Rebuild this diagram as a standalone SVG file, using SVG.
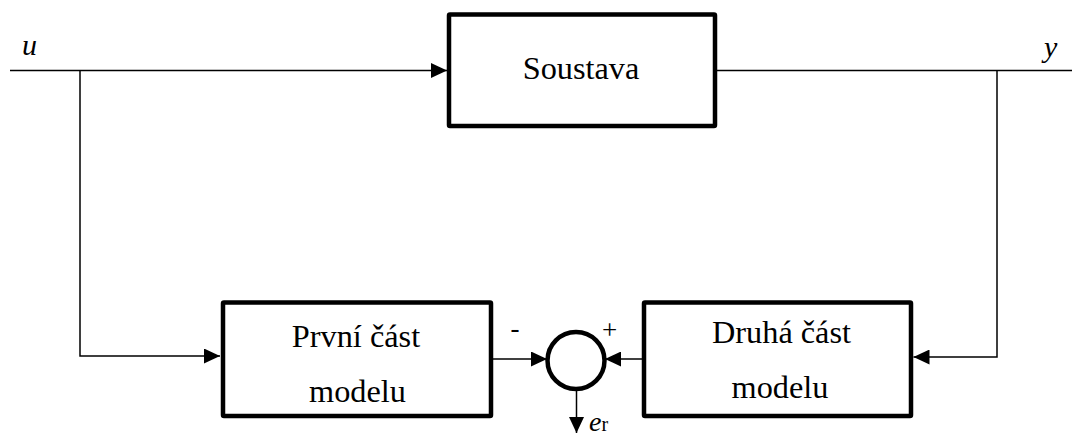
<svg xmlns="http://www.w3.org/2000/svg" width="1072" height="436" viewBox="0 0 1072 436">
  <style>
    .blk { fill: #fff; stroke: #000; stroke-width: 4.5; }
    .wire { fill: none; stroke: #000; stroke-width: 1.5; }
    text { font-family: "Liberation Serif", "Times New Roman", serif; fill: #000; }
    .lbl { font-size: 32.3px; }
    .var { font-style: italic; }
    .sgn { font-size: 27px; }
  </style>
  <defs>
    <marker id="arrow" markerUnits="userSpaceOnUse" markerWidth="17" markerHeight="15" refX="16" refY="7.5" orient="auto">
      <path d="M0,0 L16,7.5 L0,15 Z" fill="#000"/>
    </marker>
  </defs>

  <!-- signal lines -->
  <g id="connectors">
    <path class="wire" d="M10,70.5 H447" marker-end="url(#arrow)"/>
    <path class="wire" d="M715,70.5 H1072"/>
    <path class="wire" d="M80,70.5 V356 H220" marker-end="url(#arrow)"/>
    <path class="wire" d="M997,70.5 V357 H913.5" marker-end="url(#arrow)"/>
    <path class="wire" d="M493,359 H547" marker-end="url(#arrow)"/>
    <path class="wire" d="M642,359 H605" marker-end="url(#arrow)"/>
    <path class="wire" d="M576.5,390 V433" marker-end="url(#arrow)"/>
  </g>

  <g id="soustava">
    <rect class="blk" x="449" y="14.5" width="266" height="111.5" rx="1"/>
    <text class="lbl" x="581" y="79" text-anchor="middle">Soustava</text>
  </g>

  <g id="prvni-cast">
    <rect class="blk" x="223" y="302.5" width="268" height="113.5" rx="1"/>
    <text class="lbl" x="356" y="347" text-anchor="middle">První část</text>
    <text class="lbl" x="357.5" y="401.5" text-anchor="middle">modelu</text>
  </g>

  <g id="druha-cast">
    <rect class="blk" x="644" y="302.5" width="267" height="113.5" rx="1"/>
    <text class="lbl" x="781.5" y="342.5" text-anchor="middle">Druhá část</text>
    <text class="lbl" x="780" y="397.5" text-anchor="middle">modelu</text>
  </g>

  <g id="soucet">
    <circle class="blk" cx="576" cy="360.5" r="28.5"/>
    <text class="sgn" x="515" y="337" text-anchor="middle">-</text>
    <text class="sgn" x="609.5" y="339" text-anchor="middle">+</text>
  </g>

  <g id="signaly">
    <text class="var" x="22" y="55" font-size="30">u</text>
    <text class="var" x="1044" y="57" font-size="30">y</text>
    <text class="var" x="589" y="431" font-size="28">e<tspan font-style="normal" font-size="20">r</tspan></text>
  </g>
</svg>
